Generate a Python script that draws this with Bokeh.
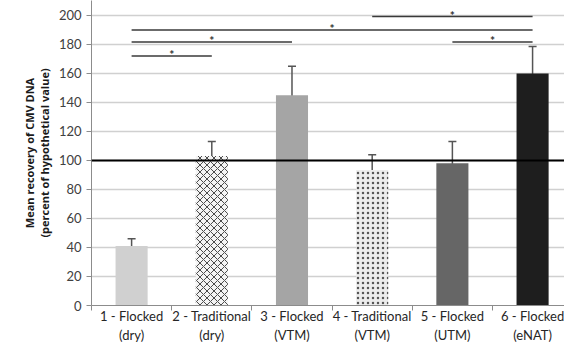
from bokeh.plotting import figure, ColumnDataSource
from bokeh.models import FixedTicker, Range1d, Span, Whisker
from bokeh.embed import file_html
from bokeh.resources import INLINE
from bokeh.core.properties import value

categories = ["1 - Flocked\n(dry)", "2 - Traditional\n(dry)", "3 - Flocked\n(VTM)",
              "4 - Traditional\n(VTM)", "5 - Flocked\n(UTM)", "6 - Flocked\n(eNAT)"]
means = [41, 103, 145, 93.5, 98, 160]
errors = [5, 10, 20, 10.5, 15, 18.5]
reference_value = 100

sig_from = [1, 1, 1, 4, 5]
sig_to = [6, 3, 2, 6, 6]
sig_level = [190, 181.6, 172, 199.3, 181.6]

y_ticks = [0, 20, 40, 60, 80, 100, 120, 140, 160, 180, 200]

fills = ["#d0d0d0", "#f4f4f4", "#a5a5a5", "#ececec", "#666666", "#1e1e1e"]
hatches = [" ", "x", " ", ".", " ", " "]
hatch_colors = ["#d0d0d0", "#4a4a4a", "#a5a5a5", "#555555", "#666666", "#1e1e1e"]
hatch_scales = [7, 7, 7, 5, 7, 7]

FONT = "Lato"

xs = list(range(1, len(categories) + 1))
src = ColumnDataSource(dict(
    x=xs, top=means,
    upper=[m + e for m, e in zip(means, errors)],
    lower=[m - e for m, e in zip(means, errors)],
    fill=fills, hatch=hatches, hcol=hatch_colors, hscale=hatch_scales,
))

p = figure(width=564, height=345, output_backend="svg", toolbar_location=None,
           x_range=Range1d(0.5, 6.398), y_range=Range1d(0, 210.3),
           min_border_left=91, min_border_right=0, min_border_top=0, min_border_bottom=40)
p.outline_line_color = None
p.background_fill_color = "white"

p.vbar(x="x", top="top", width=0.4, source=src, fill_color="fill",
       hatch_pattern="hatch", hatch_color="hcol", hatch_scale="hscale", hatch_weight=1,
       line_color=None)

w = Whisker(base="x", upper="upper", lower="lower", source=src,
            line_color="#555555", line_width=1.5)
for head in (w.upper_head, w.lower_head):
    head.line_color = "#555555"
    head.size = 8
    head.line_width = 1.5
p.add_layout(w)

p.add_layout(Span(location=reference_value, dimension="width", line_color="black", line_width=2))

sig_src = ColumnDataSource(dict(
    x0=sig_from, x1=sig_to, y=sig_level,
    mx=[(a + b) / 2 for a, b in zip(sig_from, sig_to)],
    sy=[v + 0.8 for v in sig_level],
    t=["*"] * len(sig_from),
))
p.segment(x0="x0", y0="y", x1="x1", y1="y", source=sig_src, line_color="#3a3a3a", line_width=1.5)
p.text(x="mx", y="sy", text="t", source=sig_src, text_align="center", text_baseline="alphabetic",
       text_font=value(FONT), text_font_size="12px", text_color="#333333", text_font_style="bold")

# axes
p.xgrid.grid_line_color = None
p.ygrid.grid_line_color = "#d0d0d0"
p.ygrid.grid_line_width = 1.5
p.yaxis.ticker = FixedTicker(ticks=y_ticks)
p.yaxis.axis_line_color = "#8c8c8c"
p.yaxis.major_tick_line_color = "#8c8c8c"
p.yaxis.major_tick_out = 5
p.yaxis.major_tick_in = 0
p.yaxis.minor_tick_line_color = None
p.yaxis.major_label_text_font = FONT
p.yaxis.major_label_text_font_size = "13px"
p.yaxis.major_label_text_color = "#404040"
p.yaxis.major_label_standoff = 5
p.yaxis.axis_label = "Mean recovery of CMV DNA\n(percent of hypothetical value)"
p.yaxis.axis_label_text_font = "Open Sans"
p.yaxis.axis_label_text_font_size = "11px"
p.yaxis.axis_label_text_font_style = "bold"
p.yaxis.axis_label_text_color = "#1a1a1a"
p.yaxis.axis_label_text_line_height = 1.0
p.yaxis.axis_label_standoff = 4

p.xaxis.ticker = FixedTicker(ticks=xs, minor_ticks=[i + 0.5 for i in range(0, 7)])
p.xaxis.major_label_overrides = {i + 1: c for i, c in enumerate(categories)}
p.xaxis.axis_line_color = "#8c8c8c"
p.xaxis.major_tick_line_color = None
p.xaxis.minor_tick_line_color = "#8c8c8c"
p.xaxis.minor_tick_out = 5
p.xaxis.minor_tick_in = 0
p.xaxis.major_label_text_font = FONT
p.xaxis.major_label_text_font_size = "13px"
p.xaxis.major_label_text_line_height = 1.2
p.xaxis.major_label_text_color = "#262626"
p.xaxis.major_label_standoff = -4
p.xaxis.axis_label_standoff = 0

open("out.html", "w").write(file_html(p, INLINE))
